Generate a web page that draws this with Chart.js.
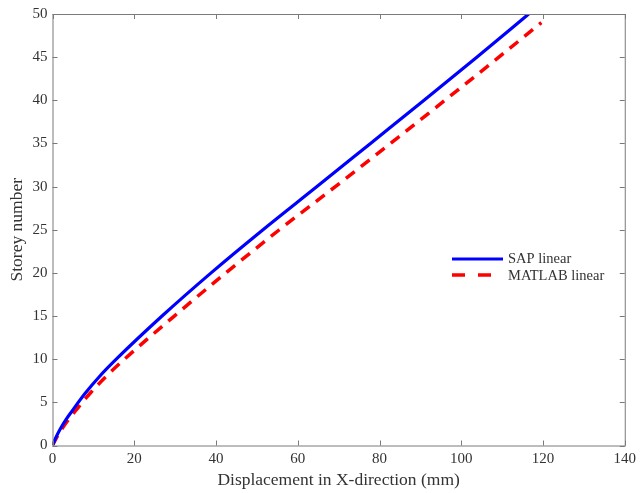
<!DOCTYPE html>
<html>
<head>
<meta charset="utf-8">
<script src="https://cdn.jsdelivr.net/npm/chart.js@4/dist/chart.umd.min.js"></script>
<style>
  html, body { margin: 0; padding: 0; background: #fff; }
  #wrap { width: 641px; height: 493px; }
</style>
</head>
<body>
<div id="wrap"><canvas id="c" width="641" height="493"></canvas></div>
<script>
// valores (deslocamento em mm por piso)
const sapStorey = [0, 1, 2, 3, 4, 5, 6, 8, 10, 15, 20, 25, 30, 35, 40, 45, 50];
const sapDisp = [0, 0.9, 2.0, 3.3, 4.8, 6.3, 7.9, 11.5, 15.6, 26.8, 38.8, 51.5, 64.7, 77.8, 90.9, 103.8, 116.5];
const matStorey = [0, 1, 2, 3, 4, 5, 6, 8, 10, 15, 20, 25, 30, 35, 40, 45, 49];
const matDisp = [0, 1.1, 2.4, 3.9, 5.6, 7.3, 9.1, 13.1, 17.6, 29.8, 42.4, 55.5, 69.2, 82.7, 96.0, 109.2, 119.6];
const xTicks = [0, 20, 40, 60, 80, 100, 120, 140];
const yTicks = [0, 5, 10, 15, 20, 25, 30, 35, 40, 45, 50];

const FONT = '"Liberation Serif", "Times New Roman", serif';
const AXIS = '#7a7a7a';
const TEXT = '#333333';

const pontos = (xs, ys) => xs.map((x, i) => ({ x, y: ys[i] }));

// caixa estilo MATLAB: moldura, ticks para dentro, títulos e legenda
const molduraMatlab = {
  id: 'molduraMatlab',
  afterDraw(chart) {
    const { ctx, chartArea: a, scales } = chart;
    const sx = scales.x, sy = scales.y;
    ctx.save();
    ctx.strokeStyle = AXIS;
    ctx.lineWidth = 1;
    ctx.strokeRect(a.left + 0.5, a.top + 0.5, a.right - a.left, a.bottom - a.top);

    ctx.beginPath();
    xTicks.forEach(v => {
      const px = Math.round(sx.getPixelForValue(v)) + 0.5;
      ctx.moveTo(px, a.bottom); ctx.lineTo(px, a.bottom - 5);
      ctx.moveTo(px, a.top); ctx.lineTo(px, a.top + 5);
    });
    yTicks.forEach(v => {
      const py = Math.round(sy.getPixelForValue(v)) + 0.5;
      ctx.moveTo(a.left, py); ctx.lineTo(a.left + 5, py);
      ctx.moveTo(a.right, py); ctx.lineTo(a.right - 5, py);
    });
    ctx.stroke();

    // títulos dos eixos
    ctx.fillStyle = TEXT;
    ctx.font = '17.5px ' + FONT;
    ctx.textAlign = 'center';
    ctx.textBaseline = 'middle';
    ctx.fillText('Displacement in X-direction (mm)', (a.left + a.right) / 2, 480);
    ctx.save();
    ctx.translate(17, (a.top + a.bottom) / 2);
    ctx.rotate(-Math.PI / 2);
    ctx.fillText('Storey number', 0, 0);
    ctx.restore();

    // legenda
    const lx0 = 452, lx1 = 503;
    ctx.lineWidth = 3;
    ctx.strokeStyle = '#0000ff';
    ctx.beginPath(); ctx.moveTo(lx0, 259); ctx.lineTo(lx1, 259); ctx.stroke();
    ctx.strokeStyle = '#ff0000';
    ctx.lineWidth = 3.5;
    ctx.setLineDash([13, 13]);
    ctx.beginPath(); ctx.moveTo(lx0, 275); ctx.lineTo(lx1 + 1, 275); ctx.stroke();
    ctx.setLineDash([]);
    ctx.fillStyle = TEXT;
    ctx.font = '14.5px ' + FONT;
    ctx.textAlign = 'left';
    ctx.fillText('SAP linear', 508, 259);
    ctx.fillText('MATLAB linear', 508, 276);
    ctx.restore();
  }
};

new Chart(document.getElementById('c'), {
  type: 'line',
  data: {
    datasets: [
      {
        label: 'SAP linear',
        data: pontos(sapDisp, sapStorey),
        borderColor: '#0000ff',
        borderWidth: 3.2,
        pointRadius: 0,
        cubicInterpolationMode: 'monotone',
        fill: false
      },
      {
        label: 'MATLAB linear',
        data: pontos(matDisp, matStorey),
        borderColor: '#ff0000',
        borderWidth: 3.5,
        borderDash: [11, 8],
        pointRadius: 0,
        cubicInterpolationMode: 'monotone',
        fill: false
      }
    ]
  },
  options: {
    responsive: false,
    animation: false,
    layout: { padding: { left: 0, right: 13, top: 11, bottom: 0 } },
    plugins: { legend: { display: false }, tooltip: { enabled: false } },
    scales: {
      x: {
        type: 'linear', min: 0, max: 140,
        afterBuildTicks: s => { s.ticks = xTicks.map(v => ({ value: v })); },
        afterFit: s => { s.height = 47.5; },
        grid: { display: false, drawTicks: false },
        border: { display: false },
        ticks: { color: TEXT, font: { family: FONT, size: 15 }, padding: 5, maxRotation: 0 }
      },
      y: {
        type: 'linear', min: 0, max: 50,
        afterBuildTicks: s => { s.ticks = yTicks.map(v => ({ value: v })); },
        afterFit: s => { s.width = 52.5; },
        grid: { display: false, drawTicks: false },
        border: { display: false },
        ticks: { color: TEXT, font: { family: FONT, size: 15 }, padding: 5 }
      }
    }
  },
  plugins: [molduraMatlab]
});
</script>
</body>
</html>
